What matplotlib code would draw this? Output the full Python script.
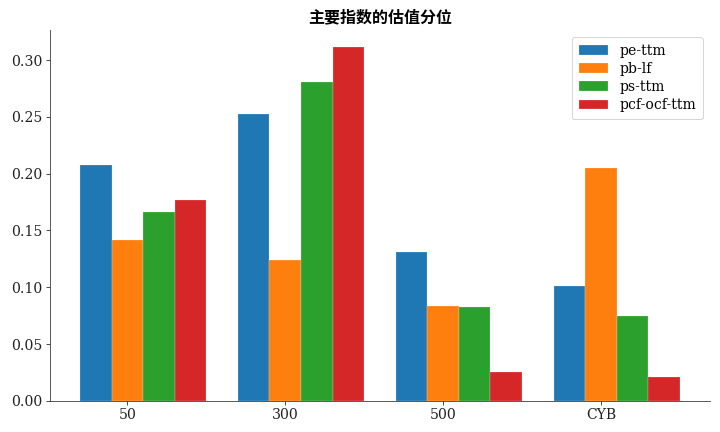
import matplotlib
matplotlib.use("Agg")
import matplotlib.pyplot as plt
import numpy as np

# percentile of valuation for the main indices
indices = ["50", "300", "500", "CYB"]
metrics = ["pe-ttm", "pb-lf", "ps-ttm", "pcf-ocf-ttm"]
pe_ttm = [0.2076, 0.2524, 0.1308, 0.1011]
pb_lf = [0.1416, 0.1240, 0.0833, 0.2046]
ps_ttm = [0.1660, 0.2803, 0.0827, 0.0748]
pcf_ocf_ttm = [0.1768, 0.3111, 0.0255, 0.0214]
colors = ["#1f77b4", "#ff7f0e", "#2ca02c", "#d62728"]

plt.rcParams["font.family"] = ["DejaVu Serif", "Noto Sans CJK SC"]

fig, ax = plt.subplots(figsize=(10, 6), dpi=72)
fig.subplots_adjust(left=0.0694, right=0.986, top=0.931, bottom=0.072)

x = np.arange(len(indices))
w = 0.2
series = [pe_ttm, pb_lf, ps_ttm, pcf_ocf_ttm]
# bars laid out at x-w, x, x+w, x+2w (tick sits on the second bar)
for i, (name, vals) in enumerate(zip(metrics, series)):
    ax.bar(x + (i - 1) * w, vals, w, color=colors[i], label=name,
           edgecolor=(1, 1, 1, 0.5), linewidth=0.4)

ax.set_xticks(x)
ax.set_xticklabels(indices)
ticks = np.arange(0, 0.31, 0.05)
ax.set_yticks(ticks)
ax.set_yticklabels([f"{v:.2f}" for v in ticks])
ax.tick_params(labelsize=14, colors="#222222", length=4)
for s in ["top", "right"]:
    ax.spines[s].set_visible(False)
for s in ["left", "bottom"]:
    ax.spines[s].set_color("#333333")

ax.set_title("主要指数的估值分位", fontsize=16, fontweight="bold",
             family=["Noto Sans CJK SC"], pad=7)
leg = ax.legend(loc="upper right", fontsize=14, frameon=True,
                labelspacing=0.3, handlelength=2.1, borderpad=0.5)
leg.get_frame().set_edgecolor("#cccccc")

fig.savefig("out.png", dpi=72)
